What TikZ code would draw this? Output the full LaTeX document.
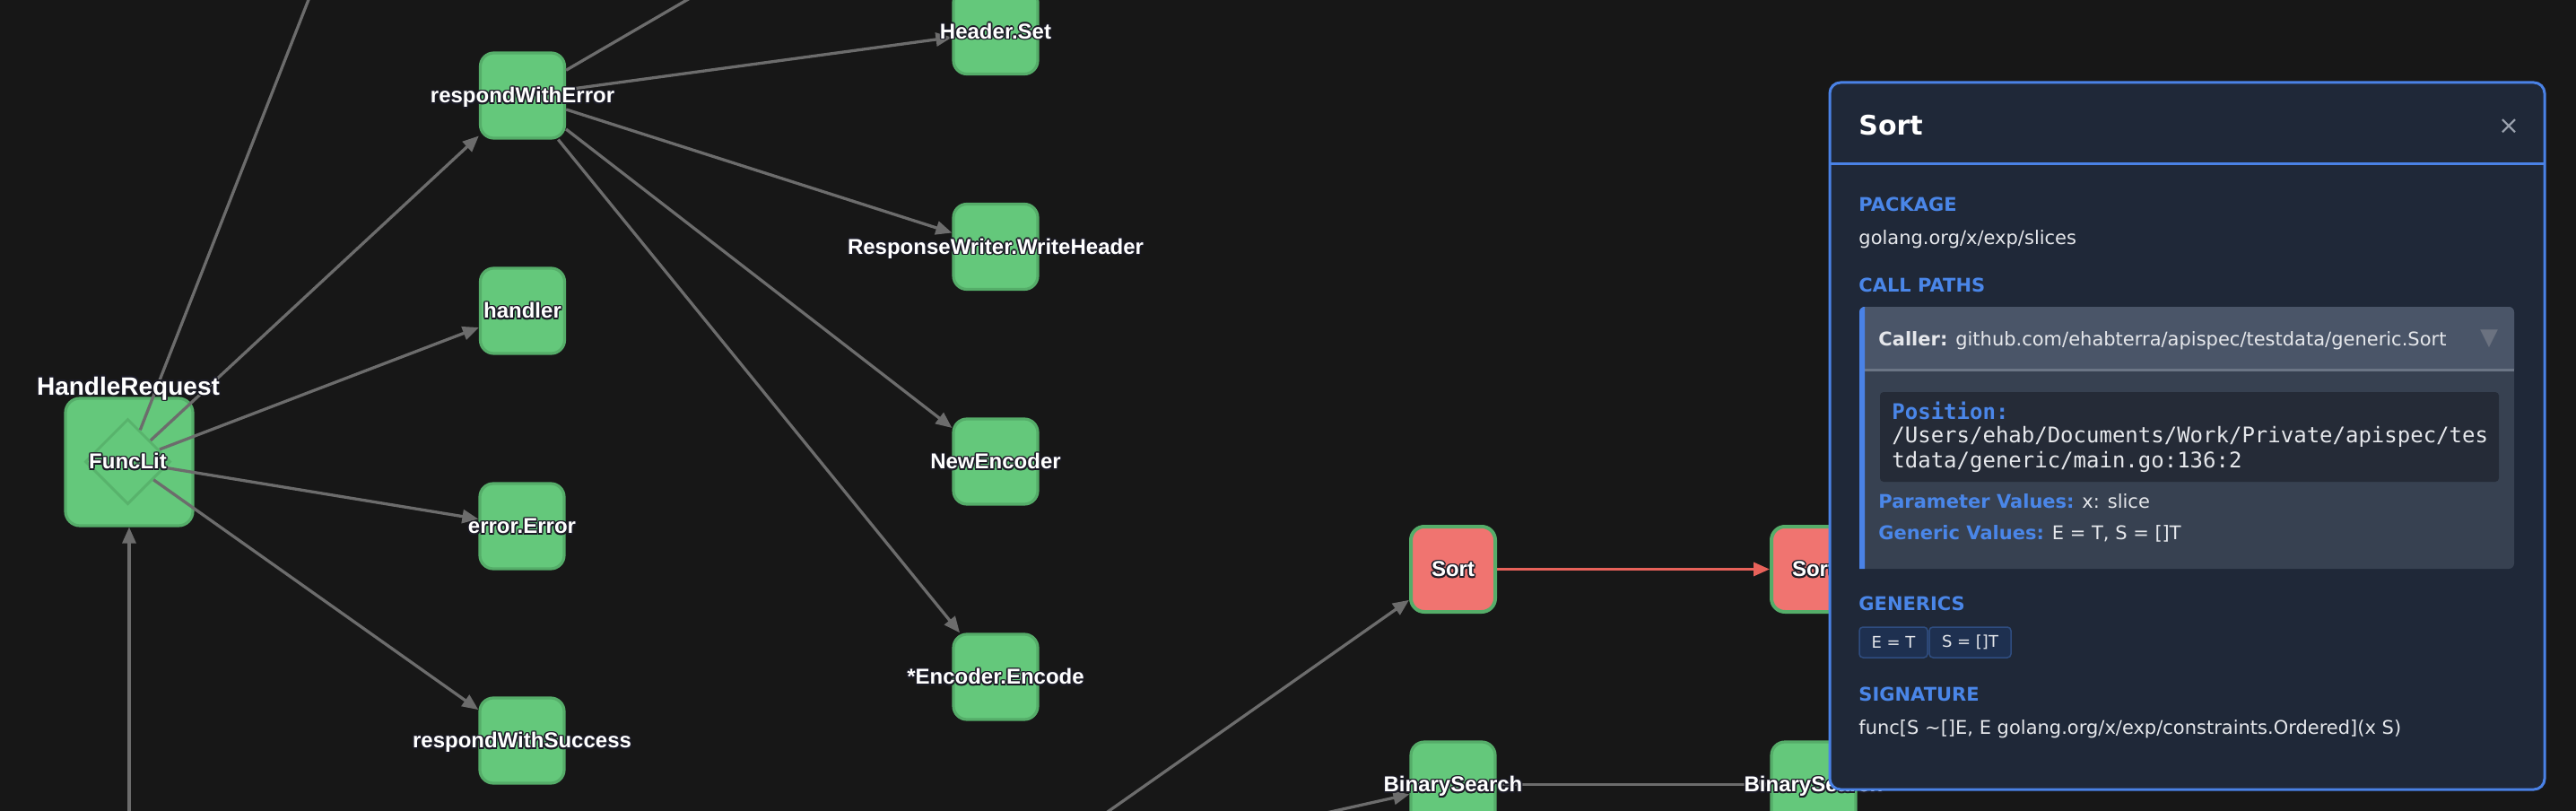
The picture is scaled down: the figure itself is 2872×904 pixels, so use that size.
\documentclass[tikz,border=0pt]{standalone}
\usepackage{fontspec}
\setmainfont{DejaVu Sans}
\newfontfamily\gfont{Liberation Sans}
\newfontfamily\mfont{DejaVu Sans Mono}
\usetikzlibrary{arrows.meta,shapes.geometric}
\definecolor{bgc}{HTML}{171717}
\definecolor{nodegreen}{HTML}{64C87B}
\definecolor{nodeborder}{HTML}{55AD69}
\definecolor{diamborder}{HTML}{58B36C}
\definecolor{nodered}{HTML}{F07470}
\definecolor{edgegray}{HTML}{6C6C6C}
\definecolor{edgered}{HTML}{E8625A}
\definecolor{haloc}{HTML}{1B1B26}
\definecolor{panelfill}{HTML}{1F2838}
\definecolor{panelblue}{HTML}{4A82E6}
\definecolor{secblue}{HTML}{4A86E8}
\definecolor{txt}{HTML}{E5E7EB}
\definecolor{cphead}{HTML}{4A5568}
\definecolor{cpbody}{HTML}{374151}
\definecolor{cpsep}{HTML}{6B7585}
\definecolor{codebg}{HTML}{252B37}
\definecolor{chipfill}{HTML}{1E3050}
\definecolor{chipborder}{HTML}{2F4D80}
\definecolor{trigray}{HTML}{6B7280}
\definecolor{closegray}{HTML}{9CA3AF}
\newcommand\fsz[1]{\fontsize{#1}{#1}\selectfont}
\newcommand\halo[1]{{\setbox0=\hbox{#1}\leavevmode
\rlap{\color{haloc}\kern-.8pt\copy0}%
\rlap{\color{haloc}\kern.8pt\copy0}%
\rlap{\color{haloc}\raise.8pt\copy0}%
\rlap{\color{haloc}\lower.8pt\copy0}%
\rlap{\color{haloc}\kern-.57pt\raise.57pt\copy0}%
\rlap{\color{haloc}\kern.57pt\raise.57pt\copy0}%
\rlap{\color{haloc}\kern-.57pt\lower.57pt\copy0}%
\rlap{\color{haloc}\kern.57pt\lower.57pt\copy0}%
\box0}}
\tikzset{
  fnode/.style={draw=nodeborder, fill=nodegreen, line width=1.6pt, rounded corners=7.5pt,
    minimum width=47pt, minimum height=47.5pt, inner sep=0pt},
  rnode/.style={fnode, fill=nodered, line width=2pt},
  fldiam/.style={diamond, draw=diamborder, line width=1.5pt, minimum width=47.5pt,
    minimum height=47.5pt, inner sep=0pt},
  glabel/.style={text=white, font=\gfont\bfseries\fsz{12pt}, inner sep=0pt, anchor=base},
  edge/.style={draw=edgegray, line width=1.65pt, -{Triangle[length=9pt,width=7.5pt]}},
  redge/.style={edge, draw=edgered},
  panel/.style={draw=panelblue, fill=panelfill, line width=1.5pt, rounded corners=6pt,
    minimum width=398.5pt, minimum height=394pt, inner sep=0pt},
  ptext/.style={inner sep=0pt, anchor=base west, text=txt, font=\fsz{10.5pt}},
  ptitle/.style={ptext, text=white, font=\bfseries\fsz{15pt}},
  sect/.style={ptext, text=secblue, font=\bfseries\fsz{10.5pt}},
  mono/.style={ptext, font=\mfont\fsz{12pt}},
  chip/.style={draw=chipborder, fill=chipfill, line width=0.75pt, rounded corners=2pt,
    minimum height=17pt, inner sep=0pt, text=txt, font=\fsz{9pt}},
}
\begin{document}
\begin{tikzpicture}[x=0.5pt,y=-0.5pt]
\fill[bgc] (0,0) rectangle (2872,904);
\useasboundingbox (0,0) rectangle (2872,904);

% off-screen ends
\coordinate (c1) at (383,-100);
\coordinate (c2) at (869,-60);
\coordinate (c3) at (144,960);
\coordinate (c4) at (1121,985);
\coordinate (c5) at (1358,933);

% boxes
\node[fnode, minimum width=71pt, minimum height=71pt, rounded corners=8pt] (hr) at (144,515) {};
\node[fldiam] (fl) at (142.5,514.5) {};
\node[fnode] (rwe) at (582.5,106.5) {};
\node[fnode] (hand) at (582.5,346.5) {};
\node[fnode] (err) at (582,586.5) {};
\node[fnode] (rws) at (582,825.5) {};
\node[fnode] (hset) at (1110,35) {};
\node[fnode] (rwh) at (1110,275) {};
\node[fnode] (nenc) at (1110,514.5) {};
\node[fnode] (enc) at (1110,754.5) {};
\node[rnode] (sort) at (1620,634.5) {};
\node[fnode] (bs) at (1620,874.5) {};
\node[rnode] (sort2) at (2022,634.5) {};
\node[fnode] (bs2) at (2022,874.5) {};

% connectors
\draw[edge] (fl) -- (c1);
\draw[edge] (fl) -- (rwe);
\draw[edge] (fl) -- (hand);
\draw[edge] (fl) -- (err);
\draw[edge] (fl) -- (rws);
\draw[edge] (rwe) -- (c2);
\draw[edge] (rwe) -- (hset);
\draw[edge] (rwe) -- (rwh);
\draw[edge] (rwe) -- (nenc);
\draw[edge] (rwe) -- (enc);
\draw[edge] (c3) -- (hr);
\draw[edge] (c4) -- (sort);
\draw[edge] (c5) -- (bs);
\draw[redge] (sort) -- (sort2);
\draw[edge] (bs) -- (bs2);

% labels
\node[glabel, font=\gfont\bfseries\fsz{14pt}] (lhr) at (143,440) {\halo{HandleRequest}};
\node[glabel] (lfl) at ([yshift=-4.2pt]fl.center) {\halo{FuncLit}};
\node[glabel] (lrwe) at ([yshift=-4.2pt]rwe.center) {\halo{respondWithError}};
\node[glabel] (lhand) at ([yshift=-4.2pt]hand.center) {\halo{handler}};
\node[glabel] (lerr) at ([yshift=-4.2pt]err.center) {\halo{error.Error}};
\node[glabel] (lrws) at ([yshift=-4.2pt]rws.center) {\halo{respondWithSuccess}};
\node[glabel] (lhset) at ([yshift=-4.2pt]hset.center) {\halo{Header.Set}};
\node[glabel] (lrwh) at ([yshift=-4.2pt]rwh.center) {\halo{ResponseWriter.WriteHeader}};
\node[glabel] (lnenc) at ([yshift=-4.2pt]nenc.center) {\halo{NewEncoder}};
\node[glabel] (lenc) at ([yshift=-4.2pt]enc.center) {\halo{*Encoder.Encode}};
\node[glabel] (lsort) at ([yshift=-4.2pt]sort.center) {\halo{Sort}};
\node[glabel] (lbs) at ([yshift=-4.2pt]bs.center) {\halo{BinarySearch}};
\node[glabel] (lsort2) at ([yshift=-4.2pt]sort2.center) {\halo{Sort}};
\node[glabel] (lbs2) at ([yshift=-4.2pt]bs2.center) {\halo{BinarySearch}};

% details panel
\node[panel] (pn) at (2438.5,486) {};
\draw[panelblue, line width=1.5pt] (2040,183) -- (2837,183);
\node[ptitle] (ttl) at (2072,151) {Sort};
\node[inner sep=0pt, text=closegray, font=\fsz{14pt}] (cls) at (2797,141) {×};
\node[sect] (s1) at (2072,235.6) {PACKAGE};
\node[ptext] (pkg) at (2072,272.5) {golang.org/x/exp/slices};
\node[sect] (s2) at (2072,325.6) {CALL PATHS};
% call path card
\fill[cpbody, rounded corners=3pt] (2073,342) rectangle (2803,634);
\fill[cphead] (2073,412) {[rounded corners=3pt] -- (2073,342) -- (2803,342)} -- (2803,412) -- cycle;
\draw[cpsep, line width=1.5pt] (2078,412) -- (2803,412);
\fill[panelblue] (2073,634) {[rounded corners=3pt] -- (2073,342) -- (2083,342)} -- (2079,342) -- (2079,634) -- cycle;
\node[ptext] (caller) at (2094,385.5) {{\bfseries Caller:} github.com/ehabterra/apispec/testdata/generic.Sort};
\node[inner sep=0pt, text=trigray, font=\fsz{13pt}] (tri) at (2775,378) {▼};
\fill[codebg, rounded corners=2pt] (2096,437) rectangle (2786,537);
\node[mono, text=secblue, font=\mfont\bfseries\fsz{12pt}] (pos) at (2109,467.7) {Position:};
\node[mono] (p1) at (2109,493) {/Users/ehab/Documents/Work/Private/apispec/tes};
\node[mono] (p2) at (2109,521) {tdata/generic/main.go:136:2};
\node[ptext] (pv) at (2094,566.5) {{\bfseries\color{secblue}Parameter Values:} x: slice};
\node[ptext] (gv) at (2094,601.5) {{\bfseries\color{secblue}Generic Values:} E = T, S = []T};
\node[sect] (s3) at (2072,680.6) {GENERICS};
\node[chip, minimum width=38pt] (ch1) at (2111,716) {E = T};
\node[chip, minimum width=45.5pt] (ch2) at (2196.5,716) {S = []T};
\node[sect] (s4) at (2072,781.6) {SIGNATURE};
\node[ptext] (sig) at (2072,818.5) {func[S \textasciitilde[]E, E golang.org/x/exp/constraints.Ordered](x S)};
\end{tikzpicture}
\end{document}
